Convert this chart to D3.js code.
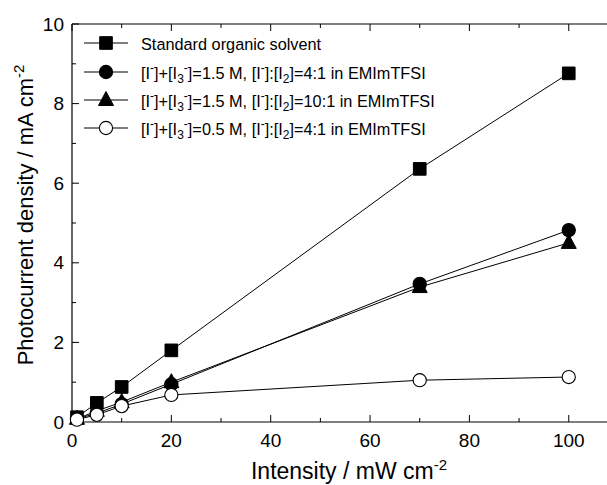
<!DOCTYPE html>
<html>
<head>
<meta charset="utf-8">
<script src="https://d3js.org/d3.v7.min.js"></script>
<style>
body { margin: 0; background: #fff; }
text { font-family: "Liberation Sans", Arial, sans-serif; fill: #000; }
</style>
</head>
<body>
<svg width="607" height="485"></svg>
<script>
var intensity = [1, 5, 10, 20, 70, 100];
var standard = [0.12, 0.48, 0.88, 1.80, 6.36, 8.76];
var il15_41 = [0.08, 0.22, 0.45, 0.95, 3.47, 4.82];
var il15_101 = [0.08, 0.28, 0.50, 1.00, 3.39, 4.50];
var il05_41 = [0.06, 0.18, 0.40, 0.68, 1.05, 1.13];

var xTicks = [0, 20, 40, 60, 80, 100];
var yTicks = [0, 2, 4, 6, 8, 10];

var series = [
    {sym: "square", fill: "#000", values: standard},
    {sym: "circle", fill: "#000", values: il15_41},
    {sym: "triangle", fill: "#000", values: il15_101},
    {sym: "circle", fill: "#fff", values: il05_41}
];

var svg = d3.select("svg"),
    margin = {top: 24, right: 0, bottom: 63, left: 72},
    width = 607 - margin.left - margin.right,
    height = 485 - margin.top - margin.bottom;

var x = d3.scaleLinear().domain([0, 107.7]).range([0, width]);
var y = d3.scaleLinear().domain([0, 10]).range([height, 0]);

var g = svg.append("g")
    .attr("transform", "translate(" + margin.left + "," + margin.top + ")");

// frame lines
g.append("line").attr("x1", 0).attr("x2", width).attr("y1", 0).attr("y2", 0)
    .attr("stroke", "#000").attr("stroke-width", 1.2);
g.append("line").attr("x1", 0).attr("x2", width).attr("y1", height).attr("y2", height)
    .attr("stroke", "#000").attr("stroke-width", 1.2);
g.append("line").attr("x1", 0).attr("x2", 0).attr("y1", 0).attr("y2", height)
    .attr("stroke", "#000").attr("stroke-width", 1.2);

// ticks (inward)
var xMinor = d3.range(10, 110, 20);
var yMinor = d3.range(1, 10, 2);
function xTick(v, len) {
    g.append("line").attr("x1", x(v)).attr("x2", x(v)).attr("y1", height).attr("y2", height - len)
        .attr("stroke", "#000");
    g.append("line").attr("x1", x(v)).attr("x2", x(v)).attr("y1", 0).attr("y2", len)
        .attr("stroke", "#000");
}
function yTick(v, len) {
    g.append("line").attr("x1", 0).attr("x2", len).attr("y1", y(v)).attr("y2", y(v))
        .attr("stroke", "#000");
}
xTicks.forEach(function(v) { xTick(v, 7); });
xMinor.forEach(function(v) { xTick(v, 4); });
yTicks.forEach(function(v) { yTick(v, 7); });
yMinor.forEach(function(v) { yTick(v, 4); });

g.selectAll(".xl").data(xTicks).enter().append("text")
    .attr("x", function(d) { return x(d); })
    .attr("y", height + 25)
    .attr("text-anchor", "middle")
    .style("font-size", "19px")
    .text(function(d) { return d; });

g.selectAll(".yl").data(yTicks).enter().append("text")
    .attr("x", -8)
    .attr("y", function(d) { return y(d) + 6.5; })
    .attr("text-anchor", "end")
    .style("font-size", "19px")
    .text(function(d) { return d; });

// axis titles
var xt = svg.append("text")
    .attr("x", 349).attr("y", 479)
    .attr("text-anchor", "middle")
    .style("font-size", "23px");
xt.append("tspan").text("Intensity / mW cm");
xt.append("tspan").attr("dy", -9).style("font-size", "15px").text("-2");

var yt = svg.append("text")
    .attr("transform", "translate(33," + 215 + ") rotate(-90)")
    .attr("text-anchor", "middle")
    .style("font-size", "22px");
yt.append("tspan").text("Photocurrent density / mA cm");
yt.append("tspan").attr("dy", -9).style("font-size", "15px").text("-2");

// markers
function drawMarker(sel, s) {
    if (s.sym === "square") {
        sel.append("path").attr("d", d3.symbol(d3.symbolSquare, 160)())
            .attr("fill", s.fill).attr("stroke", "#000");
    } else if (s.sym === "circle") {
        sel.append("circle").attr("r", 6.6)
            .attr("fill", s.fill).attr("stroke", "#000").attr("stroke-width", 1.1);
    } else {
        sel.append("path").attr("d", "M0,-8.5L7.5,5.5L-7.5,5.5Z")
            .attr("fill", s.fill).attr("stroke", "#000");
    }
}

var line = d3.line()
    .x(function(d, i) { return x(intensity[i]); })
    .y(function(d) { return y(d); });

series.forEach(function(s) {
    g.append("path").datum(s.values)
        .attr("d", line)
        .attr("fill", "none")
        .attr("stroke", "#000")
        .attr("stroke-width", 1);
});
series.forEach(function(s) {
    s.values.forEach(function(v, i) {
        var m = g.append("g")
            .attr("transform", "translate(" + x(intensity[i]) + "," + y(v) + ")");
        drawMarker(m, s);
    });
});

// legend
var legendRows = [43, 72, 100, 128];
var legend = svg.append("g");
function sup(t, s) { t.append("tspan").attr("dy", -7).style("font-size", "12px").text(s); }
function sub(t, s) { t.append("tspan").attr("dy", 4).style("font-size", "12px").text(s); }

series.forEach(function(s, i) {
    var row = legend.append("g").attr("transform", "translate(0," + legendRows[i] + ")");
    row.append("line").attr("x1", 84).attr("x2", 128).attr("y1", 0).attr("y2", 0)
        .attr("stroke", "#000");
    var m = row.append("g").attr("transform", "translate(106,0)");
    drawMarker(m, s);
    var t = row.append("text").attr("x", 141).attr("y", 7).style("font-size", "16.3px");
    if (i === 0) {
        t.text("Standard organic solvent");
        return;
    }
    var conc = i === 3 ? "0.5" : "1.5";
    var ratio = i === 2 ? "10:1" : "4:1";
    t.append("tspan").text("[I");
    sup(t, "-");
    t.append("tspan").attr("dy", 7).text("]+[I");
    sub(t, "3");
    t.append("tspan").attr("dy", -11).style("font-size", "12px").text("-");
    t.append("tspan").attr("dy", 7).text("]=" + conc + " M, [I");
    sup(t, "-");
    t.append("tspan").attr("dy", 7).text("]:[I");
    sub(t, "2");
    t.append("tspan").attr("dy", -4).text("]=" + ratio + " in EMImTFSI");
});
</script>
</body>
</html>
